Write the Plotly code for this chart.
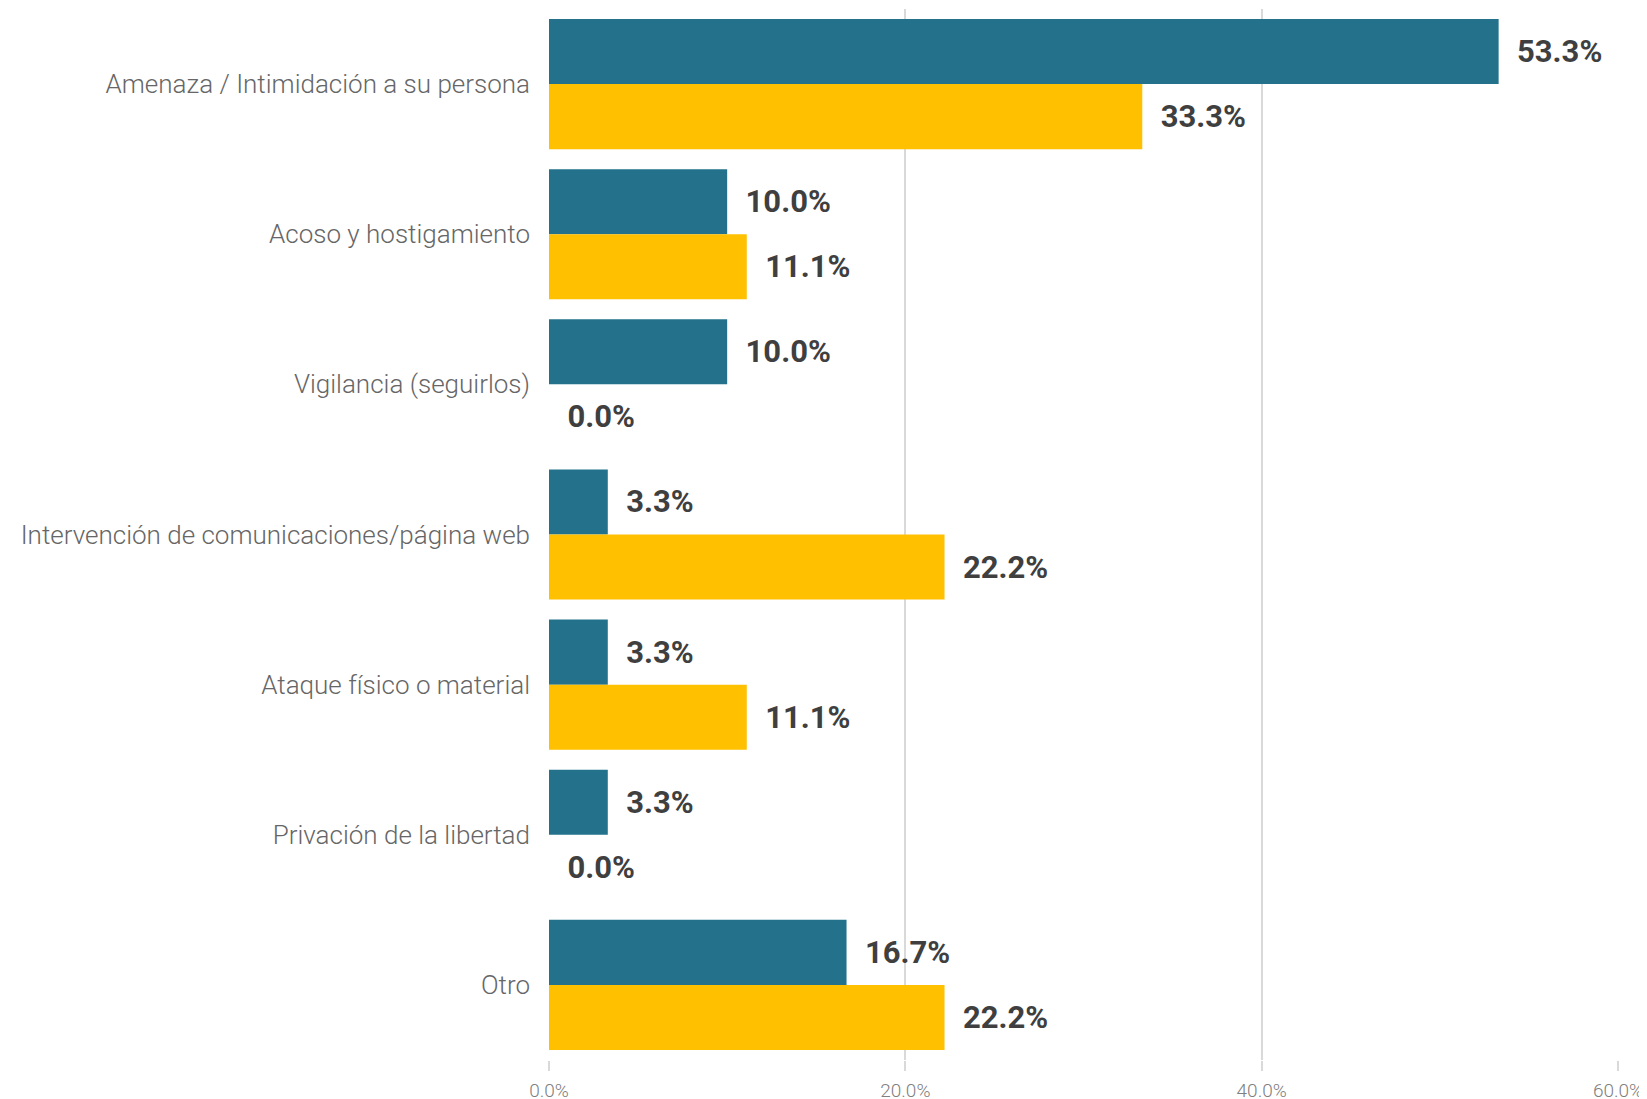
import plotly.graph_objects as go

categorias = [
    "Amenaza / Intimidación a su persona",
    "Acoso y hostigamiento",
    "Vigilancia (seguirlos)",
    "Intervención de comunicaciones/página web",
    "Ataque físico o material",
    "Privación de la libertad",
    "Otro",
]
serie_a = [53.3, 10.0, 10.0, 3.3, 3.3, 3.3, 16.7]
serie_b = [33.3, 11.1, 0.0, 22.2, 11.1, 0.0, 22.2]
ticks_x = [0, 20, 40, 60]
ticks_x_txt = ["0.0%", "20.0%", "40.0%", "60.0%"]

etiqueta = "\u00a0\u00a0%{x:.1f}%"
fuente_etq = dict(family="Roboto", size=31, color="#3F3F3F", weight="bold")

fig = go.Figure()
fig.add_trace(go.Bar(
    y=categorias, x=serie_a, orientation="h", name="Serie A",
    marker=dict(color="#23718A", line=dict(width=0)),
    texttemplate=etiqueta, textposition="outside", cliponaxis=False,
    textfont=fuente_etq,
))
fig.add_trace(go.Bar(
    y=categorias, x=serie_b, orientation="h", name="Serie B",
    marker=dict(color="#FFC000", line=dict(width=0)),
    texttemplate=etiqueta, textposition="outside", cliponaxis=False,
    textfont=fuente_etq,
))

# la página deja 8 px de margen alrededor de la figura
fig.update_layout(
    width=1647, height=1099,
    barmode="group", bargap=0.133, bargroupgap=0,
    plot_bgcolor="white", paper_bgcolor="white",
    showlegend=False,
    margin=dict(l=541, r=37, t=1, b=47),
    font=dict(family="Roboto", color="#6E6E6E"),
    uniformtext=dict(mode=False),
)
fig.update_xaxes(
    range=[0, 60], tickvals=ticks_x, ticktext=ticks_x_txt,
    automargin=False,
    showgrid=True, gridcolor="#D9D9D9", gridwidth=2,
    zeroline=False, showline=False,
    ticks="outside", ticklen=10, tickcolor="#D9D9D9", tickwidth=2,
    ticklabelstandoff=3,
    tickfont=dict(family="Roboto", size=19, color="#808080", weight=300),
)
fig.update_yaxes(
    autorange="reversed", automargin=False,
    showgrid=False, zeroline=False,
    showline=False, ticks="", ticklabelstandoff=18,
    tickfont=dict(family="Roboto", size=26, color="#666666", weight=300),
)
fig.write_html("out.html")
